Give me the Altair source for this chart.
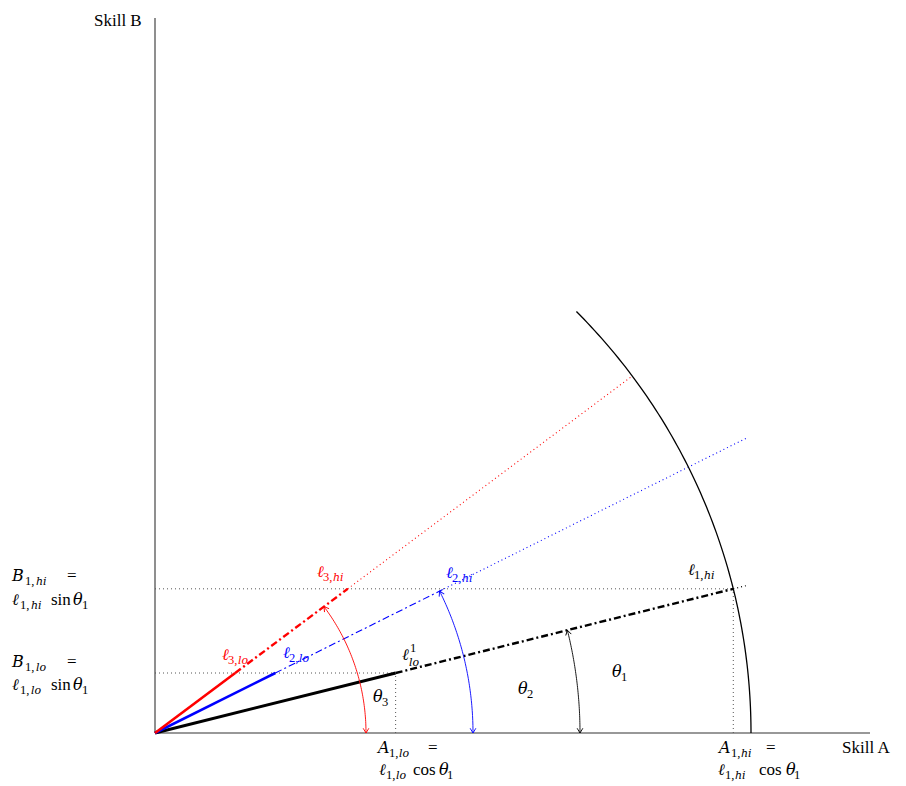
import numpy as np
import pandas as pd
import altair as alt

# ---- data (units: diagram units, origin at the axes' corner) ----
theta_deg = [14.0, 26.5, 36.8]            # angles of lines 1,2,3
line_colors = ["#000000", "#0000ff", "#ff0000"]
line_keys = ["k", "b", "r"]
l1_lo = 248.0                              # length of l_{1,lo}
l1_hi = 596.0                              # length of l_{1,hi}
line_end = [611.0, 662.0, 596.0]           # where the dotted extensions stop
angle_arc_r = [425.0, 318.0, 211.0]        # radius of the theta_k arcs
big_arc_r = 596.0
big_arc_span = [0.0, 45.0]
axis_len = 715.0

th = np.radians(theta_deg)
B_lo = l1_lo * np.sin(th[0])
B_hi = l1_hi * np.sin(th[0])
A_lo = l1_lo * np.cos(th[0])
A_hi = l1_hi * np.cos(th[0])
lo_len = [l1_lo] + [B_lo / np.sin(t) for t in th[1:]]
hi_len = [l1_hi] + [B_hi / np.sin(t) for t in th[1:]]

rows = []
seg_id = [0]


def seg(style, xs, ys):
    seg_id[0] += 1
    for i, (x, y) in enumerate(zip(xs, ys)):
        rows.append(dict(seg=seg_id[0], i=i, x=float(x), y=float(y), style=style))


# axes
seg("axis", [0, axis_len], [0, 0])
seg("axis", [0, 0], [0, axis_len])
# dotted guides
seg("guide", [0, A_hi], [B_hi, B_hi])
seg("guide", [0, A_lo], [B_lo, B_lo])
seg("guide", [A_lo, A_lo], [0, B_lo])
seg("guide", [A_hi, A_hi], [0, B_hi])
# the three lines
for k in range(3):
    c, s = np.cos(th[k]), np.sin(th[k])
    key = line_keys[k]
    seg("solid_" + key, [0, lo_len[k] * c], [0, lo_len[k] * s])
    seg("dd_" + key, [lo_len[k] * c, hi_len[k] * c], [lo_len[k] * s, hi_len[k] * s])
    seg("dot_" + key, [hi_len[k] * c, line_end[k] * c], [hi_len[k] * s, line_end[k] * s])
# big arc
a = np.radians(np.linspace(big_arc_span[0], big_arc_span[1], 90))
seg("arc", big_arc_r * np.cos(a), big_arc_r * np.sin(a))
# angle arcs
arrows = []
for k in range(3):
    a = np.linspace(0, th[k], 60)
    seg("aarc_" + line_keys[k], angle_arc_r[k] * np.cos(a), angle_arc_r[k] * np.sin(a))
    arrows.append(dict(x=angle_arc_r[k], y=0.0, ang=0.0, color=line_colors[k]))
    arrows.append(dict(x=angle_arc_r[k] * np.cos(th[k]), y=angle_arc_r[k] * np.sin(th[k]),
                       ang=180.0 - theta_deg[k], color=line_colors[k]))

df = pd.DataFrame(rows)
arr_df = pd.DataFrame(arrows)

DD = [7, 3, 2, 3]
DOT = [1, 3]
styles = {
    "axis": ("#333333", 1.1, None),
    "guide": ("#555555", 1.0, DOT),
    "solid_k": ("#000000", 3.0, None),
    "solid_b": ("#0000ff", 2.6, None),
    "solid_r": ("#ff0000", 2.6, None),
    "dd_k": ("#000000", 2.4, DD),
    "dd_b": ("#0000ff", 1.1, DD),
    "dd_r": ("#ff0000", 2.4, DD),
    "dot_k": ("#000000", 1.1, DOT),
    "dot_b": ("#0000ff", 1.1, DOT),
    "dot_r": ("#ff0000", 1.1, DOT),
    "arc": ("#000000", 1.3, None),
    "aarc_k": ("#000000", 0.9, None),
    "aarc_b": ("#0000ff", 0.9, None),
    "aarc_r": ("#ff0000", 0.9, None),
}

# ---- text pieces: (x, y, text, kind, color) ----
K, Bc, R = "#000000", "#0000ff", "#ff0000"
texts = [
    (-61, 707, "Skill B", "rm", K),
    (687, -20, "Skill A", "rm", K),
    # B_{1,hi}
    (-143, 152, "B", "it", K), (-130, 148, "1,", "sr", K), (-119, 148, "hi", "si", K), (-88, 152, "=", "rm", K),
    (-143, 128, "ℓ", "it", K), (-135, 124, "1,", "sr", K), (-124, 124, "hi", "si", K),
    (-104, 128, "sin", "rm", K), (-82, 128, "θ", "it", K), (-73, 124, "1", "sr", K),
    # B_{1,lo}
    (-143, 66, "B", "it", K), (-130, 62, "1,", "sr", K), (-119, 62, "lo", "si", K), (-88, 66, "=", "rm", K),
    (-143, 43, "ℓ", "it", K), (-135, 39, "1,", "sr", K), (-124, 39, "lo", "si", K),
    (-104, 43, "sin", "rm", K), (-82, 43, "θ", "it", K), (-73, 39, "1", "sr", K),
    # A_{1,lo}
    (223, -20, "A", "it", K), (234, -24, "1,", "sr", K), (244, -24, "lo", "si", K), (273, -20, "=", "rm", K),
    (224, -42, "ℓ", "it", K), (231, -46, "1,", "sr", K), (241, -46, "lo", "si", K),
    (258, -42, "cos", "rm", K), (284, -42, "θ", "it", K), (292, -46, "1", "sr", K),
    # A_{1,hi}
    (564, -20, "A", "it", K), (576, -24, "1,", "sr", K), (586, -24, "hi", "si", K), (611, -20, "=", "rm", K),
    (563, -42, "ℓ", "it", K), (570, -46, "1,", "sr", K), (580, -46, "hi", "si", K),
    (604, -42, "cos", "rm", K), (631, -42, "θ", "it", K), (639, -46, "1", "sr", K),
    # line labels
    (533, 158, "ℓ", "it", K), (539, 154, "1,", "sr", K), (549, 154, "hi", "si", K),
    (291, 155, "ℓ", "it", Bc), (297, 151, "2,", "sr", Bc), (307, 151, "hi", "si", Bc),
    (162, 156, "ℓ", "it", R), (168, 152, "3,", "sr", R), (178, 152, "hi", "si", R),
    (67, 73, "ℓ", "it", R), (73, 69, "3,", "sr", R), (83, 69, "lo", "si", R),
    (128, 75, "ℓ", "it", Bc), (134, 71, "2,", "sr", Bc), (144, 71, "lo", "si", Bc),
    (247, 73, "ℓ", "it", K), (255, 81, "1", "sr", K), (254, 67, "lo", "si", K),
    # angle labels
    (218, 31, "θ", "it", K), (227, 27, "3", "sr", K),
    (363, 39, "θ", "it", K), (372, 35, "2", "sr", K),
    (457, 56, "θ", "it", K), (466, 52, "1", "sr", K),
]
tdf = pd.DataFrame(texts, columns=["x", "y", "text", "kind", "color"])

XD = [-147, 743]
YD = [-53, 725]
xenc = alt.X("x:Q", scale=alt.Scale(domain=XD, nice=False, zero=False), axis=None)
yenc = alt.Y("y:Q", scale=alt.Scale(domain=YD, nice=False, zero=False), axis=None)

layers = []
for name, (col, w, dash) in styles.items():
    sub = df[df["style"] == name]
    kw = dict(color=col, strokeWidth=w)
    if dash is not None:
        kw["strokeDash"] = dash
    layers.append(
        alt.Chart(sub).mark_line(**kw).encode(x=xenc, y=yenc, detail="seg:N", order="i:Q")
    )

layers.append(
    alt.Chart(arr_df).mark_point(shape="M -0.6 -1 L 0 0 L 0.6 -1", filled=False, size=90,
                                 strokeWidth=0.9, opacity=1).encode(
        x=xenc, y=yenc,
        angle=alt.Angle("ang:Q", scale=None),
        stroke=alt.Stroke("color:N", scale=None),
    )
)

kinds = {
    "it": dict(font="DejaVu Serif", fontSize=16, fontStyle="italic"),
    "rm": dict(font="Liberation Serif", fontSize=17, fontStyle="normal"),
    "si": dict(font="DejaVu Serif", fontSize=11, fontStyle="italic"),
    "sr": dict(font="Liberation Serif", fontSize=12.5, fontStyle="normal"),
}
for kname, kw in kinds.items():
    sub = tdf[tdf["kind"] == kname]
    layers.append(
        alt.Chart(sub).mark_text(align="left", baseline="alphabetic", **kw).encode(
            x=xenc, y=yenc, text="text:N", color=alt.Color("color:N", scale=None)
        )
    )

chart = alt.layer(*layers).properties(
    width=890, height=778, padding=0,
    autosize=alt.AutoSizeParams(type="none"),
).configure_view(stroke=None)

chart.save("out.html", embed_options={"renderer": "svg", "actions": False})
